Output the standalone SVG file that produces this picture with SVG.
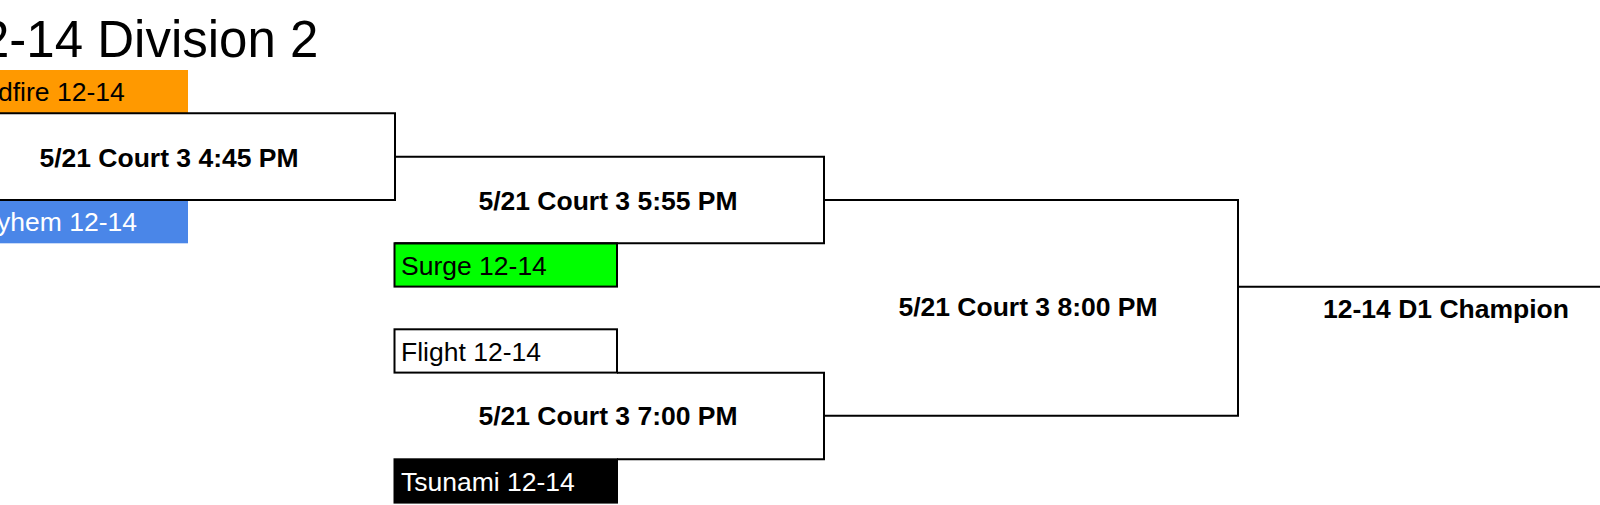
<svg xmlns="http://www.w3.org/2000/svg" width="1600" height="505" viewBox="0 0 1600 505">
  <style>
    .title { font-family: "Liberation Sans", Arial, sans-serif; font-size: 51px; fill: #000; }
    .team { font-family: "Liberation Sans", Arial, sans-serif; font-size: 26.5px; }
    .match { font-family: "Liberation Sans", Arial, sans-serif; font-size: 26.5px; font-weight: bold; fill: #000; text-anchor: middle; }
    .ln { fill: none; stroke: #000; stroke-width: 2; }
    .box { stroke: #000; stroke-width: 2; }
  </style>
  <rect width="1600" height="505" fill="#fff"/>
  <text class="title" x="-19" y="57">2-14 Division 2</text>

  <g id="team-wildfire">
    <rect x="-40" y="70" width="228" height="43.3" fill="#ff9900"/>
    <text class="team" x="-2" y="100.5" fill="#000">dfire 12-14</text>
  </g>
  <g id="team-mayhem">
    <rect x="-40" y="200" width="228" height="43.3" fill="#4a86e8"/>
    <text class="team" x="-3" y="231" fill="#fff">yhem 12-14</text>
  </g>
  <g id="team-surge">
    <rect class="box" x="394.5" y="243.3" width="222.5" height="43.3" fill="#00ff00"/>
    <text class="team" x="401" y="274.5" fill="#000">Surge 12-14</text>
  </g>
  <g id="team-flight">
    <rect class="box" x="394.5" y="329.3" width="222.5" height="43.3" fill="#fff"/>
    <text class="team" x="401" y="360.5" fill="#000">Flight 12-14</text>
  </g>
  <g id="team-tsunami">
    <rect class="box" x="394.5" y="459.3" width="222.5" height="43.3" fill="#000"/>
    <text class="team" x="401" y="490.5" fill="#fff">Tsunami 12-14</text>
  </g>

  <g id="connectors">
    <path class="ln" d="M-10,113.3 H395 V200 H-10"/>
    <path class="ln" d="M395,156.7 H824 V243.3 H394.5"/>
    <path class="ln" d="M617,372.7 H824 V459.3 H617"/>
    <path class="ln" d="M824,200 H1238 V415.7 H824"/>
    <path class="ln" d="M1238,286.7 H1602"/>
  </g>

  <g id="match-1">
    <text class="match" x="169" y="166.5">5/21 Court 3 4:45 PM</text>
  </g>
  <g id="match-2">
    <text class="match" x="608" y="209.5">5/21 Court 3 5:55 PM</text>
  </g>
  <g id="match-3">
    <text class="match" x="608" y="425">5/21 Court 3 7:00 PM</text>
  </g>
  <g id="match-4">
    <text class="match" x="1028" y="316">5/21 Court 3 8:00 PM</text>
  </g>
  <g id="champion">
    <text class="match" x="1446" y="318">12-14 D1 Champion</text>
  </g>
</svg>
